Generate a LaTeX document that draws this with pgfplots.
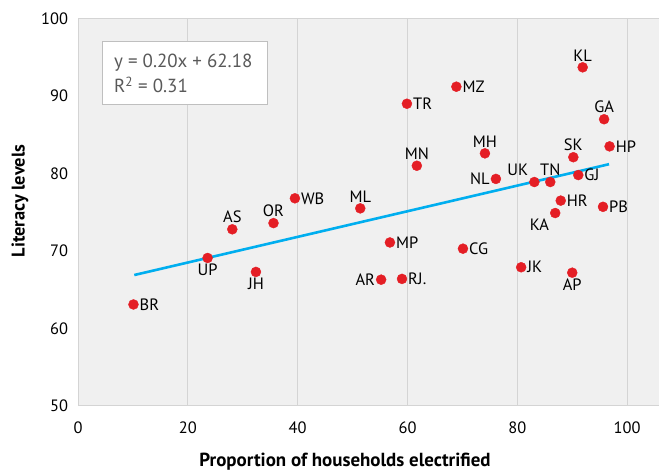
\documentclass[border=0pt]{standalone}
\usepackage{pgfplots}
\pgfplotsset{compat=1.18}
\usepackage{fontspec}
\setmainfont{PT Sans}
\definecolor{ptred}{RGB}{228,30,37}
\definecolor{lineblue}{RGB}{0,174,239}
\definecolor{bggray}{RGB}{240,240,240}
\definecolor{gridgray}{RGB}{212,212,212}
\definecolor{txtgray}{RGB}{89,89,89}
\definecolor{boxgray}{RGB}{191,191,191}

\pgfplotsset{
  statepts/.style={only marks, mark=*, mark size=5bp, color=ptred,
    point meta=explicit symbolic, nodes near coords,
    every node near coord/.append style={anchor=#1, inner sep=6bp, text=black, font=\fontsize{16.5}{16.5}\selectfont}},
}

\begin{document}
\begin{tikzpicture}[x=1bp,y=1bp]
\path[use as bounding box] (0,0) rectangle (659,471);
\begin{axis}[
  at={(78bp,65bp)}, anchor=south west,
  scale only axis, width=581bp, height=387.5bp,
  xmin=0, xmax=105.8, ymin=50, ymax=100,
  xtick={0,20,40,60,80,100}, ytick={50,60,70,80,90,100},
  axis background/.style={fill=bggray},
  xmajorgrids, major x grid style={draw=gridgray, line width=0.8bp},
  axis line style={draw=gridgray, line width=1bp},
  major tick length=0pt,
  /pgf/number format/assume math mode=true,
  tick label style={font=\fontsize{16.5}{16.5}\selectfont, text=black},
  xticklabel style={yshift=-12.5bp},
  yticklabel style={xshift=-6.5bp},
  xlabel={Proportion of households electrified},
  ylabel={Literacy levels},
  every axis x label/.style={at={(axis description cs:0.4596,-0.1445)}, anchor=center, font=\fontsize{19}{19}\selectfont\bfseries},
  every axis y label/.style={at={(axis description cs:-0.0998,0.529)}, rotate=90, anchor=center, font=\fontsize{18.5}{18.5}\selectfont\bfseries},
  clip=false,
]
\addplot[lineblue, line width=2.6bp] coordinates {(10.25,66.9) (96.7,81.2)};
% labels to the right
\addplot[statepts=west] coordinates {
  (10.1,63.1) [BR] (39.5,76.8) [WB] (56.8,71.1) [MP] (59.0,66.4) [RJ.]
  (70.1,70.3) [CG] (59.9,89.0) [TR] (68.9,91.2) [MZ] (80.7,67.9) [JK]
  (87.9,76.5) [HR] (95.6,75.7) [PB] (96.8,83.5) [HP] (91.1,79.8) [GJ]
};
% labels below
\addplot[statepts=north] coordinates {
  (23.6,69.1) [UP] (32.4,67.3) [JH] (90.0,67.2) [AP]
};
% labels above
\addplot[statepts=south] coordinates {
  (28.1,72.8) [AS] (35.6,73.6) [OR] (51.4,75.5) [ML] (61.7,81.0) [MN]
  (74.1,82.6) [MH] (86.0,78.9) [TN] (90.2,82.1) [SK] (91.9,93.7) [KL]
  (95.8,87.0) [GA]
};
% labels to the left
\addplot[statepts=east] coordinates {
  (55.2,66.3) [AR] (76.1,79.3) [NL]
};
\addplot[statepts=south east] coordinates {(83.1,78.9) [UK]};
\addplot[statepts=north east] coordinates {(86.9,74.9) [KA]};
\end{axis}
\draw[boxgray, line width=1bp, fill=white] (102,366) rectangle (267,429);
\node[anchor=west, align=left, text=txtgray, font=\fontsize{19}{25}\selectfont, inner sep=0pt] at (114,397.5) {y = 0.20x + 62.18\\R\textsuperscript{2} = 0.31};
\end{tikzpicture}
\end{document}
